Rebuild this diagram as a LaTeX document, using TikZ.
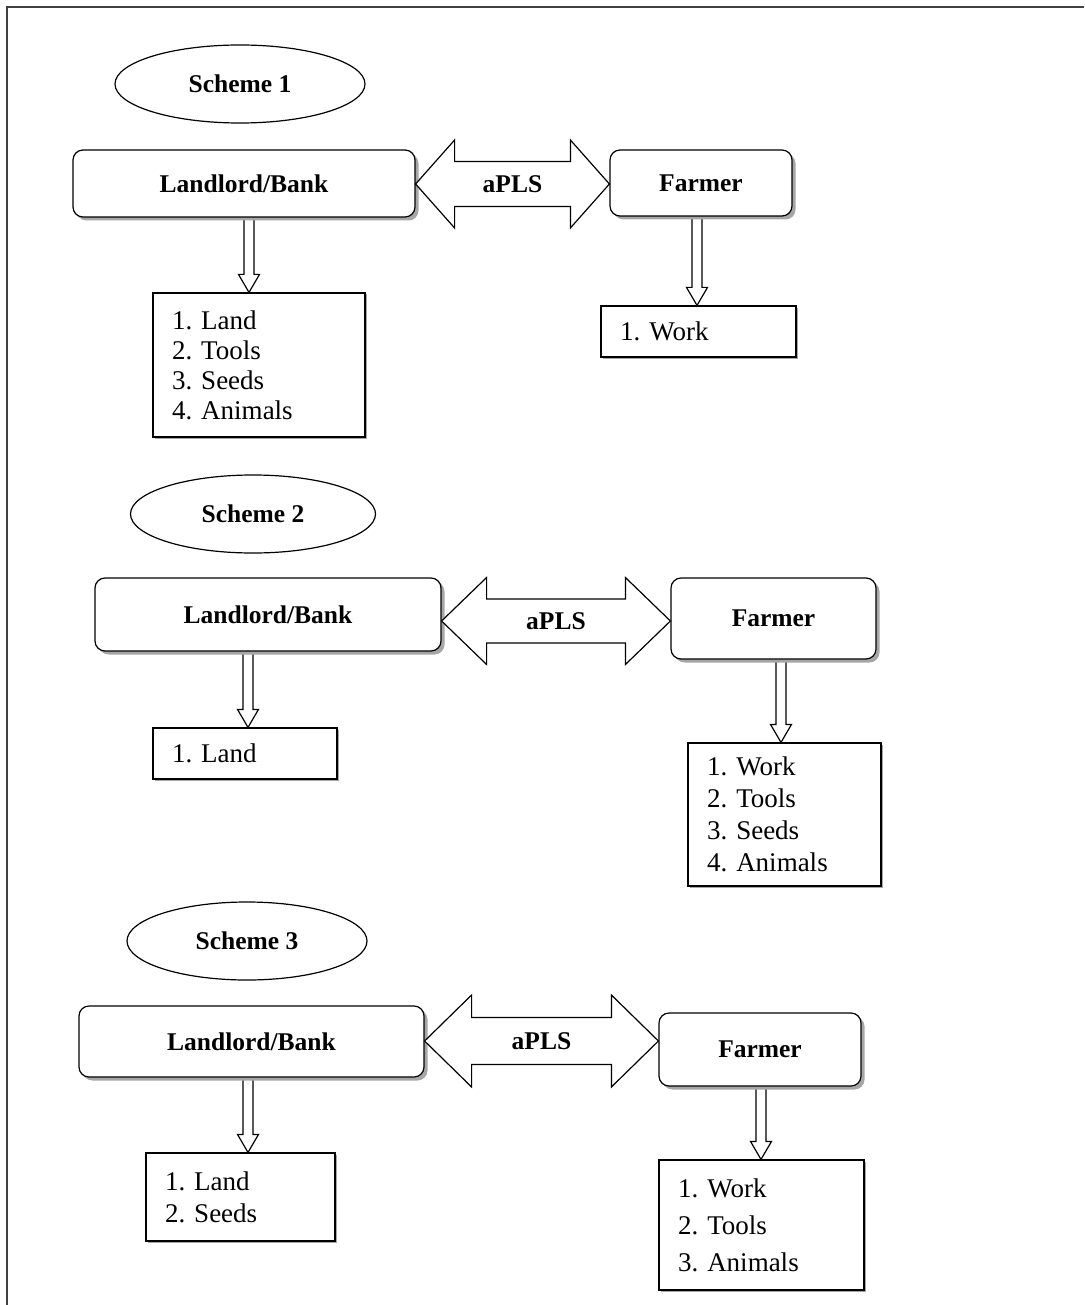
\documentclass[tikz,border=0pt]{standalone}
\usepackage{fontspec}
\setmainfont{Liberation Serif}
\usetikzlibrary{shapes.geometric,shadows,calc,backgrounds}
\frenchspacing
\newcommand\varr[3]{%
  \draw[blk] ($(#3,0 |- #1.south)+(-5,0)$) -- ($(#3,0 |- #2.north)+(-5,-18)$) -- ++(-5.5,0) -- (#3,0 |- #2.north) -- ++(10.5,-18) -- ++(-5.5,0) -- ($(#3,0 |- #1.south)+(5,0)$) -- cycle;}
\newcommand\dbl[6]{%
  \draw[blk] (#1.east |- 0,#3) -- ++(#4,-#5) -- ++(0,#5-#6) -- ($(#2.west |- 0,#3)+(-#4,-#6)$) -- ++(0,#6-#5) -- (#2.west |- 0,#3) -- ++(-#4,#5) -- ++(0,#6-#5) -- ($(#1.east |- 0,#3)+(#4,#6)$) -- ++(0,#5-#6) -- cycle;}
\begin{document}
\begin{tikzpicture}[x=1pt,y=-1pt,
  every node/.style={inner sep=0pt},
  lw/.style={line width=1.2pt},
  blk/.style={draw, lw, fill=white, line join=miter},
  rbox/.style={draw, lw, rounded corners=10pt, fill=white,
    font=\fontsize{25.5}{30}\selectfont\bfseries\frenchspacing,
    drop shadow={shadow xshift=3.5pt, shadow yshift=-3.5pt, fill=black!35, opacity=1}},
  oval/.style={draw, lw, ellipse, fill=white, minimum width=250pt, minimum height=78pt,
    font=\fontsize{25.5}{30}\selectfont\bfseries},
  lbox/.style={draw, lw, fill=white, align=left, inner xsep=19pt,
    drop shadow={shadow xshift=1.5pt, shadow yshift=-1.5pt, fill=black!35, opacity=1}},
  lab/.style={font=\fontsize{25.5}{30}\selectfont\bfseries}
]
\useasboundingbox (0,0) rectangle (1084,1305);
\draw[line width=1.5pt, black!75] (7,1305) -- (7,7) -- (1084,7);

% Scheme 1
\node[oval] (E1) at (240,84) {Scheme 1};
\node[rbox, minimum width=342pt, minimum height=67pt] (L1) at (244,183.5) {Landlord/Bank};
\node[rbox, minimum width=182pt, minimum height=66pt] (F1) at (701,183) {Farmer};
\node[lbox, minimum height=144pt, text width=174pt, font=\fontsize{27}{30}\selectfont\frenchspacing] (B1) at (259,365) {1. Land\\2. Tools\\3. Seeds\\4. Animals};
\node[lbox, minimum height=51pt, text width=157pt, font=\fontsize{27}{30}\selectfont\frenchspacing] (W1) at (698.5,331.5) {1. Work};

% Scheme 2
\node[oval, minimum width=245pt] (E2) at (253,514) {Scheme 2};
\node[rbox, minimum width=346pt, minimum height=73pt] (L2) at (268,614.5) {Landlord/Bank};
\node[rbox, minimum width=205pt, minimum height=81pt] (F2) at (773.5,618.5) {Farmer};
\node[lbox, minimum height=51pt, text width=146pt, font=\fontsize{27}{30}\selectfont\frenchspacing] (D2) at (245,753.5) {1. Land};
\node[lbox, minimum height=143pt, text width=155pt, font=\fontsize{27}{32}\selectfont\frenchspacing] (B2) at (784.5,814.5) {1. Work\\2. Tools\\3. Seeds\\4. Animals};

% Scheme 3
\node[oval, minimum width=240pt] (E3) at (247,941) {Scheme 3};
\node[rbox, minimum width=345pt, minimum height=71pt] (L3) at (251.5,1041.5) {Landlord/Bank};
\node[rbox, minimum width=202pt, minimum height=73pt] (F3) at (760,1049.5) {Farmer};
\node[lbox, minimum height=88pt, text width=151pt, font=\fontsize{27}{32}\selectfont\frenchspacing] (D3) at (240.5,1197) {1. Land\\2. Seeds};
\node[lbox, minimum height=130pt, text width=167pt, font=\fontsize{27}{37}\selectfont\frenchspacing] (B3) at (761.5,1225) {1. Work\\2. Tools\\3. Animals};

\begin{pgfonlayer}{background}
\varr{L1}{B1}{249}
\varr{F1}{W1}{697}
\varr{L2}{D2}{248}
\varr{F2}{B2}{781}
\varr{L3}{D3}{248}
\varr{F3}{B3}{761}
\end{pgfonlayer}

\dbl{L1}{F1}{184}{39}{44}{22.5}
\dbl{L2}{F2}{621}{45}{43.5}{22}
\dbl{L3}{F3}{1041}{47}{46}{23.5}

\node[lab] (P1) at ($(L1.east |- 0,184)!0.5!(F1.west |- 0,184)$) {aPLS};
\node[lab] (P2) at ($(L2.east |- 0,621)!0.5!(F2.west |- 0,621)$) {aPLS};
\node[lab] (P3) at ($(L3.east |- 0,1041)!0.5!(F3.west |- 0,1041)$) {aPLS};
\end{tikzpicture}
\end{document}
